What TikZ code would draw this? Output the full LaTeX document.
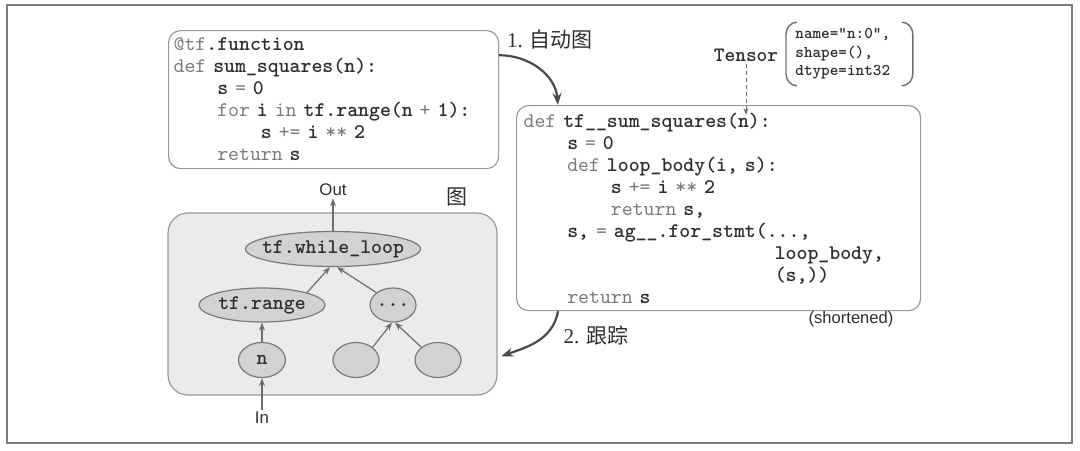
\documentclass[tikz,border=0pt]{standalone}
\usepackage{fontspec}
\setmainfont{Liberation Serif}
\setsansfont{Liberation Sans}
\newfontfamily\cjkfont{Noto Sans CJK SC}
\usepackage{xcolor}
\usetikzlibrary{arrows.meta,shapes.geometric,calc,positioning}

\definecolor{framegray}{HTML}{7A7A7A}
\definecolor{boxgray}{HTML}{9A9A9A}
\definecolor{panelfill}{HTML}{EBEBEB}
\definecolor{opfill}{HTML}{D2D2D2}
\definecolor{opborder}{HTML}{7A7A7A}
\definecolor{codeink}{HTML}{2E2E2E}
\definecolor{kwink}{HTML}{7A7A7A}
\definecolor{edgegray}{HTML}{6E6E6E}
\definecolor{flowink}{HTML}{4A4A4A}

\newcommand{\kw}[1]{{\mdseries\color{kwink}#1}}
\newcommand{\ind}[1]{\hspace*{\dimexpr #1em*525/1000\relax}}
\newcommand{\oplabel}[1]{\makebox[0pt]{#1}}

\begin{document}
\begin{tikzpicture}[
  x=0.5pt, y=-0.5pt,
  codebox/.style={rectangle, draw=boxgray, fill=white, line width=0.6pt, rounded corners=6pt, anchor=north west, align=left, inner ysep=0pt, font=\ttfamily\bfseries\fontsize{10.4}{11}\selectfont, text=codeink},
  panel/.style={rectangle, draw=boxgray, fill=panelfill, line width=0.6pt, rounded corners=10pt},
  op/.style={ellipse, draw=opborder, fill=opfill, line width=0.6pt, inner sep=0pt, minimum height=17.5pt, font=\ttfamily\bfseries\fontsize{10.4}{11}\selectfont, text=codeink},
  io/.style={font=\sffamily\fontsize{8.4}{10}\selectfont, inner sep=1pt, text=codeink},
  steplabel/.style={font=\fontsize{10.5}{12}\selectfont, inner sep=1pt, text=codeink},
  edge/.style={-{Stealth[length=4pt,width=3pt]}, draw=edgegray, line width=0.6pt},
  flow/.style={-{Stealth[length=6pt,width=4.5pt]}, draw=flowink, line width=1.1pt},
  hint/.style={-{Stealth[length=3.5pt,width=2.5pt]}, draw=edgegray, line width=0.5pt, dash pattern=on 2pt off 1.5pt}
]
\useasboundingbox (0,0) rectangle (1080,450);
\draw[framegray, line width=1pt] (7,5) rectangle (1072,443);

% Source function and the generated one
\node[codebox, text width=160pt, inner xsep=2.5pt, minimum height=69pt] (fn) at (168,30) {%
\kw{@tf}.function\\
\kw{def} sum\_squares(n):\\
\ind{4}s \kw{=} 0\\
\ind{4}\kw{for} i \kw{in} tf.range(n \kw{+} 1):\\
\ind{8}s \kw{+=} i \kw{**} 2\\
\ind{4}\kw{return} s};

\node[codebox, text width=195pt, inner xsep=3.5pt, minimum height=102.5pt] (body) at (516,105) {%
\kw{def} tf\_\_sum\_squares(n):\\
\ind{4}s \kw{=} 0\\
\ind{4}\kw{def} loop\_body(i, s):\\
\ind{8}s \kw{+=} i \kw{**} 2\\
\ind{8}\kw{return} s,\\
\ind{4}s, \kw{=} ag\_\_.for\_stmt(...,\\
\ind{23}loop\_body,\\
\ind{23}(s,))\\
\ind{4}\kw{return} s};

\node[io, font=\sffamily\fontsize{8.3}{10}\selectfont] (short) at (851,319) {(shortened)};

% Tensor annotation
\node[font=\ttfamily\bfseries\fontsize{10.2}{10}\selectfont, text=codeink, inner sep=1pt] (tensor) at (746,55) {Tensor};
\node[font=\ttfamily\bfseries\fontsize{8.2}{9.25}\selectfont, text=codeink, align=left, text width=54pt, inner xsep=1pt, inner ysep=3pt, anchor=west] (attr) at (793,54) {name="n:0",\\shape=(),\\dtype=int32};
\coordinate (argn) at (746,115);

\draw[edgegray, line width=0.7pt] ([xshift=2pt]attr.north west) to[out=180, in=90] ([xshift=-3.5pt, yshift=-6pt]attr.north west)
  -- ([xshift=-3.5pt, yshift=6pt]attr.south west) to[out=-90, in=180] ([xshift=2pt]attr.south west);
\draw[edgegray, line width=0.7pt] ([xshift=-2pt]attr.north east) to[out=0, in=90] ([xshift=3.5pt, yshift=-6pt]attr.north east)
  -- ([xshift=3.5pt, yshift=6pt]attr.south east) to[out=-90, in=0] ([xshift=-2pt]attr.south east);

% Graph panel
\node[panel, minimum width=164.5pt, minimum height=91pt] (panel) at (332.5,304) {};
\node[steplabel] (graphlbl) at (457,197) {{\cjkfont 图}};

\node[op, minimum width=87.5pt] (loop) at (333,249) {\oplabel{tf.while\_loop}};
\node[op, minimum width=63pt, minimum height=17pt] (range) at (262,305) {\oplabel{tf.range}};
\node[op, minimum width=23pt, minimum height=17pt] (dots) at (393,305) {\oplabel{...}};
\node[op, minimum width=23.5pt] (n) at (262,360) {\oplabel{n}};
\node[op, minimum width=23pt] (leafa) at (356,360) {};
\node[op, minimum width=23pt] (leafb) at (438,360) {};

\node[io] (out) at (333,190) {Out};
\node[io] (in) at (262,418) {In};

% Graph edges
\draw[edge] (loop) -- (out);
\draw[edge] (in) -- (n);
\draw[edge] (n) -- (range);
\draw[edge] (range.north east) -- ([xshift=-1.5pt]loop.south);
\draw[edge] (dots.north west) -- ([xshift=2pt]loop.south);
\draw[edge] (leafa.north east) -- ([xshift=-0.5pt]dots.south);
\draw[edge] (leafb.north west) -- ([xshift=1pt]dots.south);

% Autograph and tracing steps
\node[steplabel] (autolbl) at (550,40) {1. {\cjkfont 自动图}};
\node[steplabel] (tracelbl) at (596,335) {2. {\cjkfont 跟踪}};
\draw[flow] (fn.15) to[out=0, in=95] ([xshift=21pt]body.north west);
\draw[flow, shorten >=2pt] ([xshift=21pt]body.south west) to[out=-100, in=20] (panel.-18);
\draw[hint] (tensor.south) -- (argn);

\end{tikzpicture}
\end{document}
